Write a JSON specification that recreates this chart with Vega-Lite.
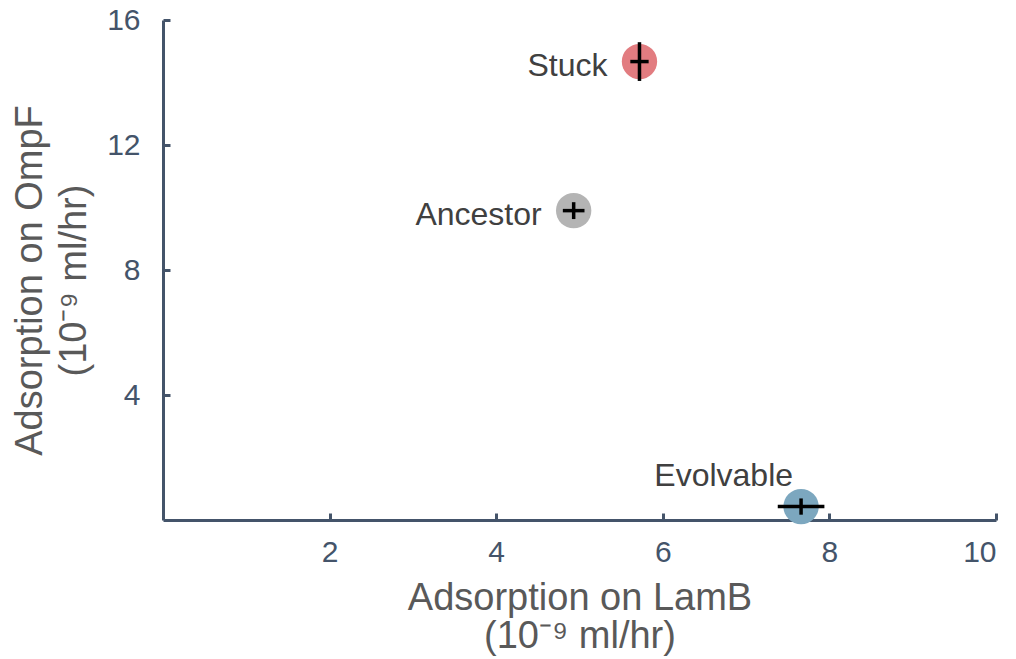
{
  "$schema": "https://vega.github.io/schema/vega-lite/v6.json",
  "autosize": "none",
  "width": 833,
  "height": 500,
  "padding": {"left": 163, "top": 20, "right": 20, "bottom": 139},
  "background": "white",
  "config": {
    "font": "Liberation Sans",
    "view": {"stroke": null},
    "axis": {
      "grid": false,
      "domainColor": "#44546a",
      "domainWidth": 3,
      "tickColor": "#44546a",
      "tickWidth": 3,
      "tickSize": -7,
      "labelColor": "#44546a",
      "labelFontSize": 30,
      "labelFont": "Liberation Sans",
      "titleFont": "Liberation Sans",
      "titleColor": "#595959",
      "titleFontSize": 38,
      "titleFontWeight": "normal"
    }
  },
  "data": {
    "values": [
      {"strain": "Stuck", "lamb": 5.72, "ompf": 14.67, "lamb_lo": 5.61, "lamb_hi": 5.83, "ompf_lo": 14.05, "ompf_hi": 15.29},
      {"strain": "Ancestor", "lamb": 4.93, "ompf": 9.9, "lamb_lo": 4.8, "lamb_hi": 5.06, "ompf_lo": 9.63, "ompf_hi": 10.17},
      {"strain": "Evolvable", "lamb": 7.66, "ompf": 0.43, "lamb_lo": 7.38, "lamb_hi": 7.94, "ompf_lo": 0.17, "ompf_hi": 0.69}
    ]
  },
  "encoding": {
    "x": {
      "field": "lamb",
      "type": "quantitative",
      "scale": {"domain": [0, 10], "nice": false, "zero": false},
      "axis": {
        "values": [2, 4, 6, 8, 10],
        "labelPadding": 24,
        "title": ["Adsorption on LamB", "(10⁻⁹ ml/hr)"],
        "titleBaseline": "middle",
        "titleLineHeight": 38,
        "titleY": 78
      }
    },
    "y": {
      "field": "ompf",
      "type": "quantitative",
      "scale": {"domain": [0, 16], "nice": false, "zero": false},
      "axis": {
        "values": [4, 8, 12, 16],
        "labelPadding": 30,
        "title": ["Adsorption on OmpF", "(10⁻⁹ ml/hr)"],
        "titleBaseline": "middle",
        "titleLineHeight": 44,
        "titleX": -133,
        "titleY": 260
      }
    }
  },
  "layer": [
    {
      "mark": {"type": "circle", "size": 1250, "opacity": 1},
      "encoding": {
        "color": {
          "field": "strain",
          "type": "nominal",
          "scale": {"domain": ["Stuck", "Ancestor", "Evolvable"], "range": ["#e27c80", "#b4b4b4", "#7ca7bf"]},
          "legend": null
        }
      }
    },
    {
      "mark": {"type": "rule", "color": "black", "strokeWidth": 3.5},
      "encoding": {"x": {"field": "lamb_lo", "type": "quantitative"}, "x2": {"field": "lamb_hi"}}
    },
    {
      "mark": {"type": "rule", "color": "black", "strokeWidth": 3.5},
      "encoding": {"y": {"field": "ompf_lo", "type": "quantitative"}, "y2": {"field": "ompf_hi"}}
    },
    {
      "transform": [{"filter": "datum.strain !== 'Evolvable'"}],
      "mark": {"type": "text", "align": "right", "baseline": "middle", "dx": -32, "dy": 4, "fontSize": 32, "color": "#404040"},
      "encoding": {"text": {"field": "strain"}}
    },
    {
      "transform": [{"filter": "datum.strain === 'Evolvable'"}],
      "mark": {"type": "text", "align": "right", "baseline": "middle", "dx": -8, "dy": -31, "fontSize": 32, "color": "#404040"},
      "encoding": {"text": {"field": "strain"}}
    }
  ]
}
